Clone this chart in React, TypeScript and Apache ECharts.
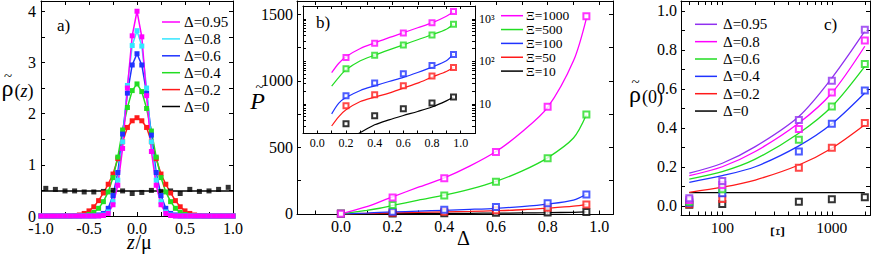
import React, { useEffect, useRef } from "react";
import * as echarts from "echarts";

const FONT = "Liberation Serif";

const C_MAG = "#ff00ff";
const C_CYAN = "#33e6ff";
const C_BLUE = "#1f33ff";
const C_GREEN = "#22dd22";
const C_RED = "#ff1a1a";
const C_BLACK = "#000000";
const C_PURPLE = "#9030f0";

// ---------- Panel a: density profiles ----------
const zPos = [-1.0, -0.95, -0.9, -0.85, -0.8, -0.75, -0.7, -0.65, -0.6, -0.55, -0.5, -0.45, -0.4, -0.35, -0.3, -0.25, -0.2, -0.15, -0.1, -0.05, 0, 0.05, 0.1, 0.15, 0.2, 0.25, 0.3, 0.35, 0.4, 0.45, 0.5, 0.55, 0.6, 0.65, 0.7, 0.75, 0.8, 0.85, 0.9, 0.95, 1.0];
const rhoD095 = [0, 0, 0, 0, 0, 0, 0, 0, 0, 0, 0, 0, 0, 0.01, 0.05, 0.22, 0.6, 1.32, 2.5, 3.52, 4.0, 3.5, 2.35, 1.26, 0.6, 0.22, 0.05, 0.01, 0, 0, 0, 0, 0, 0, 0, 0, 0, 0, 0, 0, 0];
const rhoD08 = [0, 0, 0, 0, 0, 0, 0, 0, 0, 0, 0, 0, 0, 0.02, 0.08, 0.28, 0.7, 1.45, 2.55, 3.33, 3.62, 3.32, 2.5, 1.45, 0.7, 0.28, 0.08, 0.02, 0, 0, 0, 0, 0, 0, 0, 0, 0, 0, 0, 0, 0];
const rhoD06 = [0, 0, 0, 0, 0, 0, 0, 0, 0, 0, 0, 0, 0.02, 0.05, 0.15, 0.4, 0.85, 1.6, 2.4, 2.95, 3.17, 2.95, 2.4, 1.58, 0.85, 0.4, 0.15, 0.05, 0.02, 0, 0, 0, 0, 0, 0, 0, 0, 0, 0, 0, 0];
const rhoD04 = [0, 0, 0, 0, 0, 0, 0, 0, 0, 0.01, 0.03, 0.07, 0.15, 0.28, 0.47, 0.75, 1.15, 1.68, 2.12, 2.45, 2.58, 2.43, 2.1, 1.66, 1.15, 0.75, 0.47, 0.28, 0.15, 0.07, 0.03, 0.01, 0, 0, 0, 0, 0, 0, 0, 0, 0];
const rhoD02 = [0, 0, 0, 0, 0, 0, 0, 0.01, 0.02, 0.05, 0.1, 0.18, 0.3, 0.45, 0.62, 0.82, 1.12, 1.45, 1.73, 1.86, 1.92, 1.86, 1.73, 1.45, 1.12, 0.82, 0.62, 0.45, 0.3, 0.18, 0.1, 0.05, 0.02, 0.01, 0, 0, 0, 0, 0, 0, 0];
const zBlack = [-0.95, -0.85, -0.75, -0.65, -0.55, -0.45, -0.35, -0.25, -0.15, -0.05, 0.05, 0.15, 0.25, 0.35, 0.45, 0.55, 0.65, 0.75, 0.85, 0.95];
const rhoD0 = [0.54, 0.52, 0.49, 0.49, 0.47, 0.47, 0.48, 0.5, 0.49, 0.44, 0.46, 0.5, 0.48, 0.49, 0.44, 0.52, 0.48, 0.49, 0.52, 0.56];
const zBlackFit = [-1, 1];
const rhoD0Fit = [0.49, 0.49];
const aXTicks = [-1, -0.75, -0.5, -0.25, 0, 0.25, 0.5, 0.75, 1];
const aXLabels = [-1, -0.5, 0, 0.5, 1];
const aYTicks = [0, 0.5, 1, 1.5, 2, 2.5, 3, 3.5, 4];
const aYLabels = [0, 1, 2, 3, 4];
const aLegend = ["Δ=0.95", "Δ=0.8", "Δ=0.6", "Δ=0.4", "Δ=0.2", "Δ=0"];

// ---------- Panel b: pressure ----------
const deltaPts = [0, 0.2, 0.4, 0.6, 0.8, 0.95];
const P1000 = [0, 123, 267, 465, 805, 1485];
const P500 = [0, 67, 138, 242, 417, 746];
const P100 = [0, 15.5, 31, 51, 80, 145];
const P50 = [0, 9, 16.3, 26.5, 44.9, 71];
const P10 = [0, 3.4, 5.2, 7.6, 10.4, 14.4];
const deltaFit = [0, 0.1, 0.15, 0.2, 0.3, 0.4, 0.5, 0.6, 0.7, 0.8, 0.9, 0.95];
const F1000 = [0, 54, 90, 128, 200, 270, 360, 468, 615, 800, 1150, 1470];
const F500 = [0, 26, 42, 63, 103, 140, 186, 244, 321, 421, 570, 745];
const F100 = [0, 5.8, 10.4, 14, 20.6, 26.5, 33.5, 41.7, 54.5, 73, 103, 147];
const F50 = [0, 3.0, 5.0, 7.2, 11.3, 14.4, 17.8, 23.4, 30.6, 42.5, 57.5, 71.4];
const F10 = [0, 0.7, 1.0, 1.35, 2.1, 3.2, 4.2, 5.3, 6.6, 8.4, 11.7, 14.4];
const bXTicks = [-0.1, 0, 0.1, 0.2, 0.3, 0.4, 0.5, 0.6, 0.7, 0.8, 0.9, 1.0];
const bXLabels = [0, 0.2, 0.4, 0.6, 0.8, 1.0];
const bYTicks = [0, 250, 500, 750, 1000, 1250, 1500];
const bYLabels = [0, 500, 1000, 1500];
const insXTicks = [-0.1, 0, 0.1, 0.2, 0.3, 0.4, 0.5, 0.6, 0.7, 0.8, 0.9, 1.0, 1.1];
const insXLabels = [0, 0.2, 0.4, 0.6, 0.8, 1.0];
const insYTicks = [2, 3, 4, 5, 6, 7, 8, 9, 10, 20, 30, 40, 50, 60, 70, 80, 90, 100, 200, 300, 400, 500, 600, 700, 800, 900, 1000, 2000];
const insYLabels = [10, 100, 1000];
const bLegend = ["Ξ=1000", "Ξ=500", "Ξ=100", "Ξ=50", "Ξ=10"];

// ---------- Panel c: contact density ----------
const xiPts = [50, 100, 500, 1000, 2000];
const r0_095 = [0.038, 0.127, 0.44, 0.641, 0.903];
const r0_08 = [0.03, 0.106, 0.394, 0.581, 0.848];
const r0_06 = [0.02, 0.084, 0.338, 0.509, 0.727];
const r0_04 = [0.015, 0.064, 0.278, 0.42, 0.591];
const r0_02 = [0.008, 0.034, 0.195, 0.298, 0.424];
const r0_0 = [0.005, 0.009, 0.021, 0.033, 0.043];
const xiFit = [50, 100, 200, 500, 1000, 2000];
const f0_095 = [0.167, 0.218, 0.303, 0.458, 0.655, 0.895];
const f0_08 = [0.154, 0.2, 0.278, 0.424, 0.578, 0.818];
const f0_06 = [0.137, 0.175, 0.239, 0.372, 0.509, 0.715];
const f0_04 = [0.12, 0.154, 0.2, 0.307, 0.42, 0.578];
const f0_02 = [0.069, 0.095, 0.132, 0.209, 0.295, 0.415];
const xiFit0 = [50, 2000];
const f0_0 = [0.067, 0.067];
const cXTicks = [50, 60, 70, 80, 90, 100, 200, 300, 400, 500, 600, 700, 800, 900, 1000, 2000];
const cXLabels = [100, 1000];
const cYTicks = [0, 0.1, 0.2, 0.3, 0.4, 0.5, 0.6, 0.7, 0.8, 0.9, 1.0];
const cYLabels = [0, 0.2, 0.4, 0.6, 0.8, 1.0];
const cLegend = ["Δ=0.95", "Δ=0.8", "Δ=0.6", "Δ=0.4", "Δ=0.2", "Δ=0"];

const zip = (xs: number[], ys: number[]) => xs.map((x, i) => [x, ys[i]]);
const zipPos = (xs: number[], ys: number[]) => zip(xs, ys).filter((p) => p[0] > 0 && p[1] > 0);

function makeAxes(dim: "x" | "y", grid: number, type: string, min: number, max: number, ticks: number[], labels: number[], fmt: (v: number) => string, size: number, labelSide: number, margin: number, tickLen = 4) {
  const pos = dim === "x" ? ["bottom", "top"] : ["left", "right"];
  return pos.map((p, i) => ({
    type,
    gridIndex: grid,
    position: p,
    min,
    max,
    ...(type === "log" ? { logBase: 10 } : {}),
    splitLine: { show: false },
    minorTick: { show: false },
    minorSplitLine: { show: false },
    axisPointer: { show: false },
    axisLine: { show: true, onZero: false, lineStyle: { color: "#000", width: 1 } },
    axisTick: { show: true, inside: true, length: tickLen, customValues: ticks, lineStyle: { color: "#000", width: 1 } },
    axisLabel:
      i === labelSide
        ? { show: true, customValues: labels, formatter: fmt, fontSize: size, fontFamily: FONT, color: "#000", margin, hideOverlap: false, showMinLabel: true, showMaxLabel: true }
        : { show: false },
  }));
}

const f1 = (v: number) => (Math.abs(v) < 1e-9 ? "0.0" : v.toFixed(1));
const f0 = (v: number) => String(Math.round(v));
const fPow = (v: number) => {
  const r = Math.round(v);
  return r === 1000 ? "10³" : r === 100 ? "10²" : "10";
};

function legend(names: string[], colors: string[], x1: number, x2: number, tx: number, y0: number, dy: number, size: number) {
  const els: any[] = [];
  names.forEach((n, i) => {
    const y = y0 + dy * i;
    els.push({ type: "line", shape: { x1, y1: y, x2, y2: y }, style: { stroke: colors[i], lineWidth: 1.5 }, silent: true });
    els.push({ type: "text", x: tx, y, style: { text: n, fontSize: size, fontFamily: FONT, fill: "#000", align: "left", verticalAlign: "middle" }, silent: true });
  });
  return els;
}

function txt(text: string, x: number, y: number, size: number, italic = false, align = "center", extra: any = {}) {
  return {
    type: "text", x, y, silent: true, ...extra,
    style: { text, fontSize: size, fontFamily: FONT, fontStyle: italic ? "italic" : "normal", fill: "#000", align, verticalAlign: "middle" },
  };
}

export default function App() {
  const ref = useRef<HTMLDivElement>(null);
  useEffect(() => {
    if (!ref.current) return;
    const chart = echarts.init(ref.current, undefined, { renderer: "svg" });

    const lineS = (name: string, data: any[], color: string, xi: number, width = 1.5, smooth: any = false) => ({
      type: "line", name, data, xAxisIndex: xi, yAxisIndex: xi, showSymbol: false, symbol: "none", smooth,
      lineStyle: { color, width }, itemStyle: { color }, z: 3,
    });
    const profS = (name: string, data: any[], color: string) => ({
      type: "line", name, data, xAxisIndex: 0, yAxisIndex: 0, symbol: "rect", symbolSize: 5, showSymbol: true,
      lineStyle: { color, width: 1.5 }, itemStyle: { color }, z: 3,
    });
    const ptsS = (name: string, data: any[], color: string, xi: number, size = 6) => ({
      type: "scatter", name, data, xAxisIndex: xi, yAxisIndex: xi, symbol: "emptyRect", symbolSize: size,
      itemStyle: { color, borderColor: color, borderWidth: 1 }, z: 4,
    });

    const option: any = {
      animation: false,
      textStyle: { fontFamily: FONT },
      grid: [
        { left: 41, top: 1, width: 192, height: 215, outerBoundsMode: "none", containLabel: false },
        { left: 297, top: 1, width: 316, height: 213.5, outerBoundsMode: "none", containLabel: false },
        { left: 303, top: 6, width: 172, height: 127.5, outerBoundsMode: "none", containLabel: false },
        { left: 681, top: 1, width: 189, height: 214.5, outerBoundsMode: "none", containLabel: false },
      ],
      xAxis: [
        ...makeAxes("x", 0, "value", -1, 1, aXTicks, aXLabels, f1, 16, 0, 4),
        ...makeAxes("x", 1, "value", -0.17, 1.053, bXTicks, bXLabels, f1, 16, 0, 4),
        ...makeAxes("x", 2, "value", -0.1, 1.1, insXTicks, insXLabels, f1, 12, 0, 3, 3),
        ...makeAxes("x", 3, "log", 42, 2230, cXTicks, cXLabels, f0, 15.5, 0, 4),
      ],
      yAxis: [
        ...makeAxes("y", 0, "value", 0, 4.2, aYTicks, aYLabels, f0, 16, 0, 5),
        ...makeAxes("y", 1, "value", -5, 1600, bYTicks, bYLabels, f0, 16, 0, 4),
        ...makeAxes("y", 2, "log", 2, 2000, insYTicks, insYLabels, fPow, 12, 1, 4, 3),
        ...makeAxes("y", 3, "value", -0.05, 1.05, cYTicks, cYLabels, f1, 16, 0, 4),
      ],
      series: [
        // panel a
        lineS("Δ=0 fit", zip(zBlackFit, rhoD0Fit), C_BLACK, 0, 1.5),
        { type: "scatter", name: "Δ=0", data: zip(zBlack, rhoD0), xAxisIndex: 0, yAxisIndex: 0, symbol: "rect", symbolSize: 5, itemStyle: { color: C_BLACK }, z: 3 },
        profS("Δ=0.2", zip(zPos, rhoD02), C_RED),
        profS("Δ=0.4", zip(zPos, rhoD04), C_GREEN),
        profS("Δ=0.6", zip(zPos, rhoD06), C_BLUE),
        profS("Δ=0.8", zip(zPos, rhoD08), C_CYAN),
        profS("Δ=0.95", zip(zPos, rhoD095), C_MAG),
        // panel b main
        lineS("Ξ=10", zip(deltaFit, F10), C_BLACK, 2, 1.3, 0.3),
        lineS("Ξ=50", zip(deltaFit, F50), C_RED, 2, 1.3, 0.3),
        lineS("Ξ=100", zip(deltaFit, F100), C_BLUE, 2, 1.3, 0.3),
        lineS("Ξ=500", zip(deltaFit, F500), C_GREEN, 2, 1.3, 0.3),
        lineS("Ξ=1000", zip(deltaFit, F1000), C_MAG, 2, 1.3, 0.3),
        ptsS("Ξ=10 pts", zip(deltaPts, P10), C_BLACK, 2),
        ptsS("Ξ=50 pts", zip(deltaPts, P50), C_RED, 2),
        ptsS("Ξ=100 pts", zip(deltaPts, P100), C_BLUE, 2),
        ptsS("Ξ=500 pts", zip(deltaPts, P500), C_GREEN, 2),
        ptsS("Ξ=1000 pts", zip(deltaPts, P1000), C_MAG, 2),
        // inset
        lineS("in Ξ=10", zipPos(deltaFit, F10), C_BLACK, 4, 1.2, 0.3),
        lineS("in Ξ=50", zipPos(deltaFit, F50), C_RED, 4, 1.2, 0.3),
        lineS("in Ξ=100", zipPos(deltaFit, F100), C_BLUE, 4, 1.2, 0.3),
        lineS("in Ξ=500", zipPos(deltaFit, F500), C_GREEN, 4, 1.2, 0.3),
        lineS("in Ξ=1000", zipPos(deltaFit, F1000), C_MAG, 4, 1.2, 0.3),
        ptsS("in Ξ=10 pts", zipPos(deltaPts, P10), C_BLACK, 4, 5),
        ptsS("in Ξ=50 pts", zipPos(deltaPts, P50), C_RED, 4, 5),
        ptsS("in Ξ=100 pts", zipPos(deltaPts, P100), C_BLUE, 4, 5),
        ptsS("in Ξ=500 pts", zipPos(deltaPts, P500), C_GREEN, 4, 5),
        ptsS("in Ξ=1000 pts", zipPos(deltaPts, P1000), C_MAG, 4, 5),
        // panel c
        lineS("c Δ=0", zip(xiFit0, f0_0), C_BLACK, 6, 1.3),
        lineS("c Δ=0.2", zip(xiFit, f0_02), C_RED, 6, 1.3, 0.3),
        lineS("c Δ=0.4", zip(xiFit, f0_04), C_BLUE, 6, 1.3, 0.3),
        lineS("c Δ=0.6", zip(xiFit, f0_06), C_GREEN, 6, 1.3, 0.3),
        lineS("c Δ=0.8", zip(xiFit, f0_08), C_MAG, 6, 1.3, 0.3),
        lineS("c Δ=0.95", zip(xiFit, f0_095), C_PURPLE, 6, 1.3, 0.3),
        ptsS("c Δ=0 pts", zip(xiPts, r0_0), C_BLACK, 6),
        ptsS("c Δ=0.2 pts", zip(xiPts, r0_02), C_RED, 6),
        ptsS("c Δ=0.4 pts", zip(xiPts, r0_04), C_BLUE, 6),
        ptsS("c Δ=0.6 pts", zip(xiPts, r0_06), C_GREEN, 6),
        ptsS("c Δ=0.8 pts", zip(xiPts, r0_08), C_MAG, 6),
        ptsS("c Δ=0.95 pts", zip(xiPts, r0_095), C_PURPLE, 6),
      ],
      graphic: [
        ...legend(aLegend, [C_MAG, C_CYAN, C_BLUE, C_GREEN, C_RED, C_BLACK], 162, 180, 184, 22, 16.9, 15),
        ...legend(bLegend, [C_MAG, C_GREEN, C_BLUE, C_RED, C_BLACK], 501, 523, 526, 15.7, 13.85, 13.5),
        ...legend(cLegend, [C_PURPLE, C_MAG, C_GREEN, C_BLUE, C_RED, C_BLACK], 695, 717, 723, 24.3, 17.35, 15),
        txt("a)", 57, 25.5, 17, false, "left"),
        txt("b)", 316, 22.5, 17, false, "left"),
        txt("c)", 824, 24, 17, false, "left"),
        // y name panel a: rho-tilde(z)
        txt("ρ", 7.5, 88, 24),
        txt("~", 8, 76, 15),
        txt("(", 14.5, 91, 18, false, "left"),
        txt("z", 20.5, 91, 18, true, "left"),
        txt(")", 27.5, 91, 18, false, "left"),
        // x name panel a
        txt("z", 127, 242, 20, true, "left"),
        txt("/μ", 135.5, 242, 20, false, "left"),
        // panel b names
        txt("P", 257.5, 101, 24, true),
        txt("~", 259.5, 87, 15),
        txt("Δ", 463.5, 238, 20),
        // panel c names
        txt("ρ", 635, 94, 24),
        txt("~", 635.5, 82, 15),
        txt("(0)", 642, 97, 18, false, "left"),
        txt("Ξ", 778, 232, 18, false, "center", { rotation: Math.PI / 2 }),
      ],
    };
    chart.setOption(option);
    return () => chart.dispose();
  }, []);
  return <div ref={ref} style={{ position: "absolute", left: 0, top: 0, width: 872, height: 256, background: "#fff" }} />;
}
